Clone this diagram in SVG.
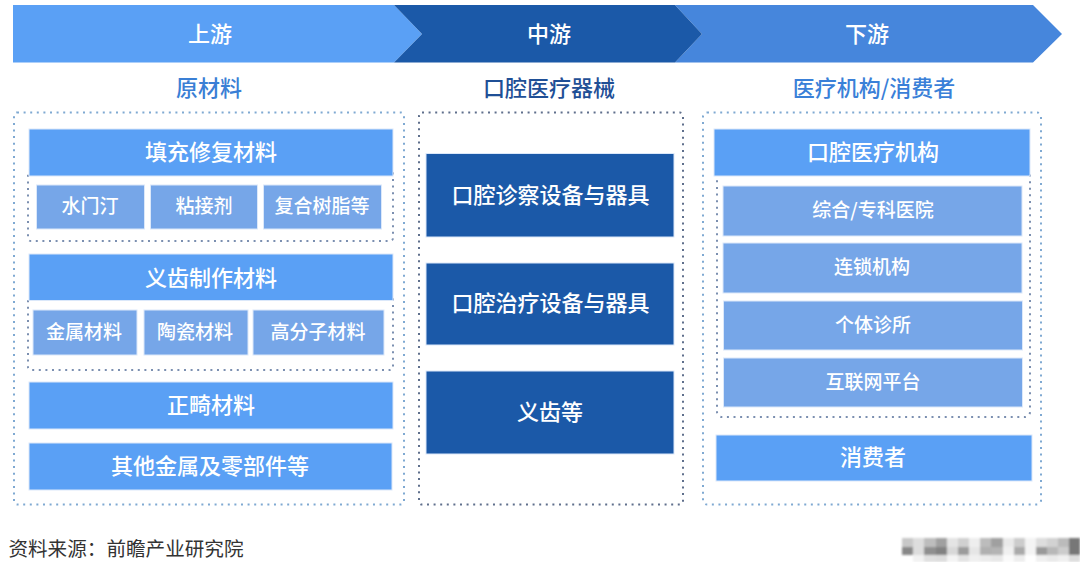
<svg xmlns="http://www.w3.org/2000/svg" width="1080" height="562" viewBox="0 0 1080 562">
<defs><filter id="soft" x="-5%" y="-20%" width="110%" height="140%"><feGaussianBlur stdDeviation="0.9"/></filter></defs>
<style>
text{font-family:"Noto Sans CJK SC","Noto Sans",sans-serif;text-anchor:middle;dominant-baseline:central;transform:translateY(-2px)}
.w{fill:#fff;font-weight:500}
.big{font-size:22px}
.sub{font-size:19px}
.head{font-size:22px;font-weight:500}
.light{fill:#5aa0f5}
.soft{fill:#76a6e8}
.deep{fill:#1b59a8}
.frame{fill:none;stroke:#7fa9d2;stroke-width:2;stroke-dasharray:2 4.6}
.frame2{fill:none;stroke:#5f6f8c;stroke-width:2;stroke-dasharray:2 4.6}
.edge{stroke:#dbe8fa;stroke-width:1}
</style>
<rect width="1080" height="562" fill="#fff"/>
<g id="frames">
<rect class="frame" x="14" y="112.500" width="390" height="392" rx="3"/>
<rect class="frame2" x="419" y="112.500" width="264" height="392" rx="3"/>
<rect class="frame" x="703" y="112.500" width="338" height="392" rx="4"/>
<rect class="frame2" x="28" y="170" width="365" height="71" rx="3" style="stroke:#7b8fb0"/>
<rect class="frame2" x="28" y="296" width="365" height="74" rx="3" style="stroke:#7b8fb0"/>
<rect class="frame2" x="717" y="170" width="313" height="247" rx="5" style="stroke:#7b8fb0"/>
</g>
<g id="stage-upstream">
<polygon points="13,5 394,5 422,34 394,62.500 13,62.500" class="light"/>
<text class="w big" x="210" y="33.500">上游</text>
<text class="head" x="209" y="88" fill="#3a7fd5">原材料</text>
</g>
<g id="stage-downstream">
<polygon points="675,5 1033,5 1062,34 1033,62.500 675,62.500 702,34" fill="#4686dc"/>
<text class="w big" x="867" y="33.500">下游</text>
<text class="head" x="874" y="88" fill="#3a80d8">医疗机构/消费者</text>
</g>
<g id="stage-midstream">
<polygon points="394,5 675,5 702,34 675,62.500 394,62.500 422,34" class="deep"/>
<text class="w big" x="549" y="33.500">中游</text>
<text class="head" x="549" y="88" fill="#1f4f96">口腔医疗器械</text>
</g>
<g id="n-filling">
<rect class="light edge" x="29" y="129" width="364" height="47"/>
<text class="w big" x="211" y="152">填充修复材料</text>
</g>
<g id="n-amalgam"><rect class="soft edge" x="36.500" y="185" width="108" height="44"/><text class="w sub" x="90" y="206">水门汀</text></g>
<g id="n-adhesive"><rect class="soft edge" x="150.500" y="185" width="107" height="44"/><text class="w sub" x="204" y="206">粘接剂</text></g>
<g id="n-resin"><rect class="soft edge" x="263.500" y="185" width="118" height="44"/><text class="w sub" x="322" y="206">复合树脂等</text></g>
<g id="n-denture-mat">
<rect class="light edge" x="29" y="254" width="364" height="46.500"/>
<text class="w big" x="211" y="277.500">义齿制作材料</text>
</g>
<g id="n-metal"><rect class="soft edge" x="33" y="310" width="104" height="45"/><text class="w sub" x="84" y="332">金属材料</text></g>
<g id="n-ceramic"><rect class="soft edge" x="144" y="310" width="104" height="45"/><text class="w sub" x="195" y="332">陶瓷材料</text></g>
<g id="n-polymer"><rect class="soft edge" x="253" y="310" width="131" height="45"/><text class="w sub" x="318" y="332">高分子材料</text></g>
<g id="n-ortho"><rect class="light edge" x="29" y="382" width="364" height="47"/><text class="w big" x="211" y="405">正畸材料</text></g>
<g id="n-other"><rect class="light edge" x="29" y="443" width="363" height="47"/><text class="w big" x="210" y="466">其他金属及零部件等</text></g>
<g id="n-diagnosis"><rect class="deep edge" x="426" y="153.500" width="248" height="83.500"/><text class="w big" x="550.500" y="195">口腔诊察设备与器具</text></g>
<g id="n-treatment"><rect class="deep edge" x="426" y="263" width="248" height="82"/><text class="w big" x="550.500" y="303">口腔治疗设备与器具</text></g>
<g id="n-denture"><rect class="deep edge" x="426" y="371" width="248" height="83"/><text class="w big" x="550" y="412">义齿等</text></g>
<g id="n-institution"><rect class="light edge" x="714" y="129" width="316" height="47"/><text class="w big" x="873" y="152">口腔医疗机构</text></g>
<g id="n-hospital"><rect class="soft edge" x="723" y="186" width="299" height="50"/><text class="w sub" x="873" y="210">综合/专科医院</text></g>
<g id="n-chain"><rect class="soft edge" x="723" y="243" width="299" height="50"/><text class="w sub" x="872" y="267">连锁机构</text></g>
<g id="n-clinic"><rect class="soft edge" x="723.500" y="301" width="299" height="49"/><text class="w sub" x="873" y="325">个体诊所</text></g>
<g id="n-platform"><rect class="soft edge" x="723.500" y="358" width="299" height="49"/><text class="w sub" x="873" y="382">互联网平台</text></g>
<g id="n-consumer"><rect class="light edge" x="716" y="435" width="316" height="46"/><text class="w big" x="873" y="457">消费者</text></g>
<g id="connectors"></g>
<g id="source">
<text x="126" y="549" fill="#333" style="font-size:19.600px">资料来源：前瞻产业研究院</text>
</g>
<g id="mosaic" filter="url(#soft)">
<rect x="902" y="538" width="11" height="9" fill="#c8c8c8"/><rect x="913" y="538" width="11" height="9" fill="#ddd"/><rect x="924" y="538" width="12" height="9" fill="#bdbdbd"/><rect x="936" y="538" width="11" height="9" fill="#a0a0a0"/><rect x="947" y="538" width="11" height="9" fill="#e4e4e4"/><rect x="958" y="538" width="11" height="9" fill="#d0d0d0"/><rect x="969" y="538" width="11" height="9" fill="#eee"/><rect x="980" y="538" width="11" height="9" fill="#bcbcbc"/><rect x="991" y="538" width="12" height="9" fill="#a0a0a0"/><rect x="1003" y="538" width="11" height="9" fill="#e9e9e9"/><rect x="1014" y="538" width="11" height="9" fill="#ccc"/><rect x="1025" y="538" width="11" height="9" fill="#f4f4f4"/><rect x="1036" y="538" width="11" height="9" fill="#ddd"/><rect x="1047" y="538" width="11" height="9" fill="#d2d2d2"/><rect x="1058" y="538" width="11" height="9" fill="#bbb"/><rect x="1069" y="538" width="11" height="9" fill="#777"/>
<rect x="902" y="547" width="11" height="8" fill="#888"/><rect x="913" y="547" width="11" height="8" fill="#ddd"/><rect x="924" y="547" width="12" height="8" fill="#8f8f8f"/><rect x="936" y="547" width="11" height="8" fill="#828282"/><rect x="947" y="547" width="11" height="8" fill="#d8d8d8"/><rect x="958" y="547" width="11" height="8" fill="#9c9c9c"/><rect x="969" y="547" width="11" height="8" fill="#e6e6e6"/><rect x="980" y="547" width="11" height="8" fill="#b0b0b0"/><rect x="991" y="547" width="12" height="8" fill="#b4b4b4"/><rect x="1003" y="547" width="11" height="8" fill="#f0f0f0"/><rect x="1014" y="547" width="11" height="8" fill="#aaa"/><rect x="1025" y="547" width="11" height="8" fill="#f4f4f4"/><rect x="1036" y="547" width="11" height="8" fill="#999"/><rect x="1047" y="547" width="11" height="8" fill="#b8b8b8"/><rect x="1058" y="547" width="11" height="8" fill="#ccc"/><rect x="1069" y="547" width="11" height="8" fill="#777"/>
<rect x="913" y="555" width="11" height="7" fill="#f2f2f2"/><rect x="924" y="555" width="12" height="7" fill="#e0e0e0"/><rect x="936" y="555" width="11" height="7" fill="#ddd"/><rect x="947" y="555" width="11" height="7" fill="#f4f4f4"/><rect x="958" y="555" width="11" height="7" fill="#e4e4e4"/><rect x="969" y="555" width="11" height="7" fill="#f0f0f0"/><rect x="980" y="555" width="11" height="7" fill="#ececec"/><rect x="991" y="555" width="12" height="7" fill="#e8e8e8"/><rect x="1003" y="555" width="11" height="7" fill="#fafafa"/><rect x="1014" y="555" width="11" height="7" fill="#eee"/><rect x="1036" y="555" width="11" height="7" fill="#f0f0f0"/><rect x="1047" y="555" width="11" height="7" fill="#eaeaea"/><rect x="1058" y="555" width="11" height="7" fill="#f0f0f0"/><rect x="1069" y="555" width="11" height="7" fill="#ddd"/>
</g>
</svg>
